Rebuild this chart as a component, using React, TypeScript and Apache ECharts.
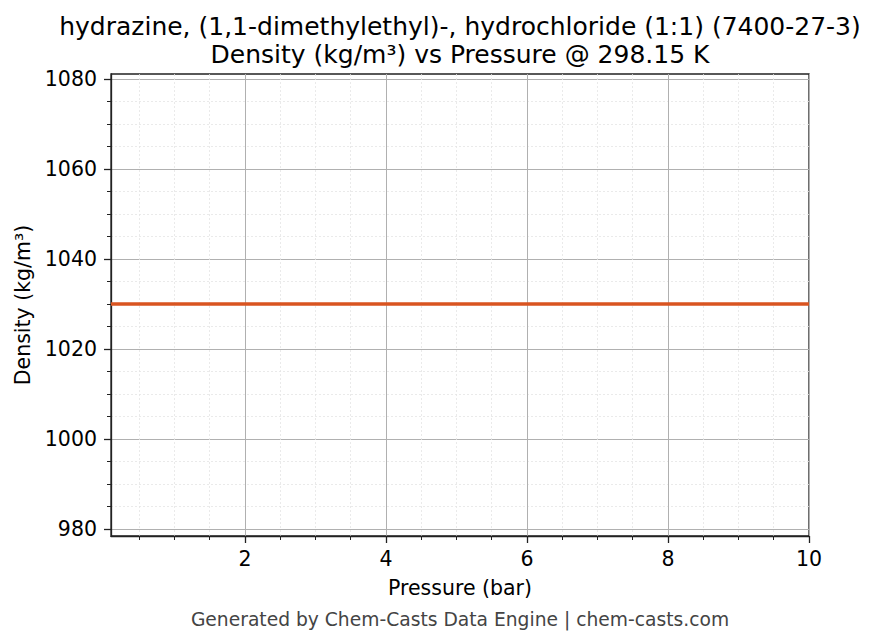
import React, { useEffect, useRef } from "react";
import * as echarts from "echarts";

const titleLines = [
  "hydrazine, (1,1-dimethylethyl)-, hydrochloride (1:1) (7400-27-3)",
  "Density (kg/m³) vs Pressure @ 298.15 K",
];
const xAxisTitle = "Pressure (bar)";
const yAxisTitle = "Density (kg/m³)";
const footer = "Generated by Chem-Casts Data Engine | chem-casts.com";

const pressures = [0.1, 1, 2, 3, 4, 5, 6, 7, 8, 9, 10];
const densities = [1030, 1030, 1030, 1030, 1030, 1030, 1030, 1030, 1030, 1030, 1030];
const xTicks = [2, 4, 6, 8, 10];
const yTicks = [980, 1000, 1020, 1040, 1060, 1080];

const FONT = "DejaVu Sans";

export default function App() {
  const ref = useRef<HTMLDivElement>(null);
  useEffect(() => {
    if (!ref.current) return;
    const chart = echarts.init(ref.current, null, { renderer: "svg" });
    const gl = { left: 111, right: 67, top: 74, bottom: 108 };
    chart.setOption({
      animation: false,
      backgroundColor: "#ffffff",
      textStyle: { fontFamily: FONT },
      grid: { ...gl, show: true, borderColor: "#222", borderWidth: 1.3, backgroundColor: "transparent" },
      xAxis: {
        type: "value",
        min: 0.1,
        max: 10,
        splitNumber: 5,
        axisLine: { show: true, onZero: false, lineStyle: { color: "#222", width: 1.3 } },
        axisTick: { show: true, length: 7, customValues: xTicks, lineStyle: { color: "#222", width: 1.3 } },
        minorTick: { show: true, splitNumber: 4, length: 4, lineStyle: { color: "#222", width: 1 } },
        axisLabel: {
          customValues: xTicks,
          color: "#000",
          fontFamily: FONT,
          fontSize: 20.5,
          margin: 23,
          verticalAlign: "middle",
          formatter: (v: number) => String(v),
        },
        splitLine: { show: true, lineStyle: { color: "#b0b0b0", width: 1 } },
        minorSplitLine: { show: true, lineStyle: { color: "#e4e4e4", width: 0.8, type: [2, 2] } },
      },
      yAxis: {
        type: "value",
        min: 978.5,
        max: 1081.1,
        splitNumber: 5,
        axisLine: { show: true, onZero: false, lineStyle: { color: "#222", width: 1.3 } },
        axisTick: { show: true, length: 7, customValues: yTicks, lineStyle: { color: "#222", width: 1.3 } },
        minorTick: { show: true, splitNumber: 4, length: 4, lineStyle: { color: "#222", width: 1 } },
        axisLabel: {
          customValues: yTicks,
          color: "#000",
          fontFamily: FONT,
          fontSize: 20.5,
          margin: 14,
          formatter: (v: number) => String(v),
        },
        splitLine: { show: true, lineStyle: { color: "#b0b0b0", width: 1 } },
        minorSplitLine: { show: true, lineStyle: { color: "#e4e4e4", width: 0.8, type: [2, 2] } },
      },
      series: [
        {
          type: "line",
          data: pressures.map((p, i) => [p, densities[i]]),
          showSymbol: false,
          symbol: "none",
          lineStyle: { color: "#d95420", width: 3.5 },
          z: 5,
        },
      ],
      graphic: [
        {
          type: "text",
          x: 460,
          y: 26,
          style: { text: titleLines[0], font: `25px '${FONT}'`, fill: "#000", textAlign: "center", textVerticalAlign: "middle" },
        },
        {
          type: "text",
          x: 460,
          y: 54,
          style: { text: titleLines[1], font: `25px '${FONT}'`, fill: "#000", textAlign: "center", textVerticalAlign: "middle" },
        },
        {
          type: "text",
          x: 460,
          y: 588,
          style: { text: xAxisTitle, font: `20.5px '${FONT}'`, fill: "#000", textAlign: "center", textVerticalAlign: "middle" },
        },
        {
          type: "text",
          x: 23,
          y: 305,
          rotation: Math.PI / 2,
          style: { text: yAxisTitle, font: `20.5px '${FONT}'`, fill: "#000", textAlign: "center", textVerticalAlign: "middle" },
        },
        {
          type: "text",
          x: 460,
          y: 619,
          style: { text: footer, font: `18.7px '${FONT}'`, fill: "#444", textAlign: "center", textVerticalAlign: "middle" },
        },
      ],
    });
    return () => chart.dispose();
  }, []);
  return (
    <div
      ref={ref}
      style={{ position: "absolute", left: 0, top: 0, width: 876, height: 644 }}
    />
  );
}
